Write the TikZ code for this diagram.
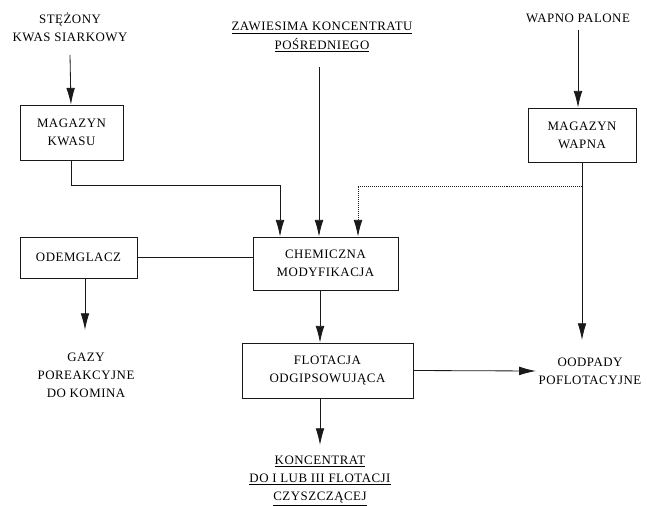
\documentclass[tikz,border=0pt]{standalone}
\usepackage{fontspec}
\setmainfont{Liberation Serif}[LetterSpace=4]
\usepackage{tikz}
\usetikzlibrary{arrows.meta, positioning}

\begin{document}
\begin{tikzpicture}[x=0.03cm, y=-0.03cm,
    font=\fontsize{11}{15.5}\selectfont,
    line width=0.7pt,
    box/.style={draw, black!90, text=black, align=center, inner sep=0pt},
    txt/.style={align=center, inner sep=2pt},
    arr/.style={-{Latex[length=5mm, width=2.6mm]}, black!90}]
    \useasboundingbox (0,0) rectangle (647,505);

    % Surowce
    \node[txt] (kwas) at (70,27) {STĘŻONY\\KWAS SIARKOWY};
    \node[txt] (zaw) at (322,37) {\underline{ZAWIESIMA KONCENTRATU}\\\underline{POŚREDNIEGO}};
    \node[txt] (wapno) at (578,18) {WAPNO PALONE};

    % Bloki
    \node[box, minimum width=103*0.03cm, minimum height=55*0.03cm] (magkwas) at (71.5,132.5) {MAGAZYN\\KWASU};
    \node[box, minimum width=108*0.03cm, minimum height=54*0.03cm] (magwap) at (582,135) {MAGAZYN\\WAPNA};
    \node[box, minimum width=145*0.03cm, minimum height=53*0.03cm] (chem) at (325.5,263.5) {CHEMICZNA\\MODYFIKACJA};
    \node[box, minimum width=117*0.03cm, minimum height=41*0.03cm] (odemg) at (78.5,257.5) {ODEMGLACZ};
    \node[box, minimum width=171*0.03cm, minimum height=55*0.03cm] (flot) at (327.5,370.5) {FLOTACJA\\ODGIPSOWUJĄCA};

    % Produkty
    \node[txt] (gazy) at (86,375) {GAZY\\POREAKCYJNE\\DO KOMINA};
    \node[txt] (odpady) at (590,371) {OODPADY\\POFLOTACYJNE};
    \node[txt] (konc) at (320,481) {\underline{KONCENTRAT}\\\underline{DO I LUB III FLOTACJI}\\\underline{CZYSZCZĄCEJ}};

    % Punkty pomocnicze
    \coordinate (k1) at (280,185);
    \coordinate (zin) at (319,67);
    \coordinate (d1) at (582,186);
    \coordinate (d2) at (358,186);
    \coordinate (c1) at (320,290);
    \coordinate (f1) at (320,398);

    % Połączenia
    \draw[arr] (kwas.south |- 0,55) -- (magkwas);
    \draw[arr] (magkwas.south) |- (k1) -- (k1 |- chem.north);
    \draw[arr] (zin) -- (zin |- chem.north);
    \draw[arr] (wapno.south |- 0,30) -- (wapno.south |- magwap.north);
    \draw[arr, densely dotted] (d1) -- (d2) -- (d2 |- chem.north);
    \draw[arr] (magwap.south) -- (magwap.south |- 0,340);
    \draw[black!90] (odemg.east) -- (odemg.east -| chem.west);
    \draw[arr] (odemg.south -| 85,0) -- (85,330);
    \draw[arr] (c1) -- (c1 |- flot.north);
    \draw[arr] (flot.east) -- (odpady.west);
    \draw[arr] (f1) -- (320,445);
\end{tikzpicture}
\end{document}
